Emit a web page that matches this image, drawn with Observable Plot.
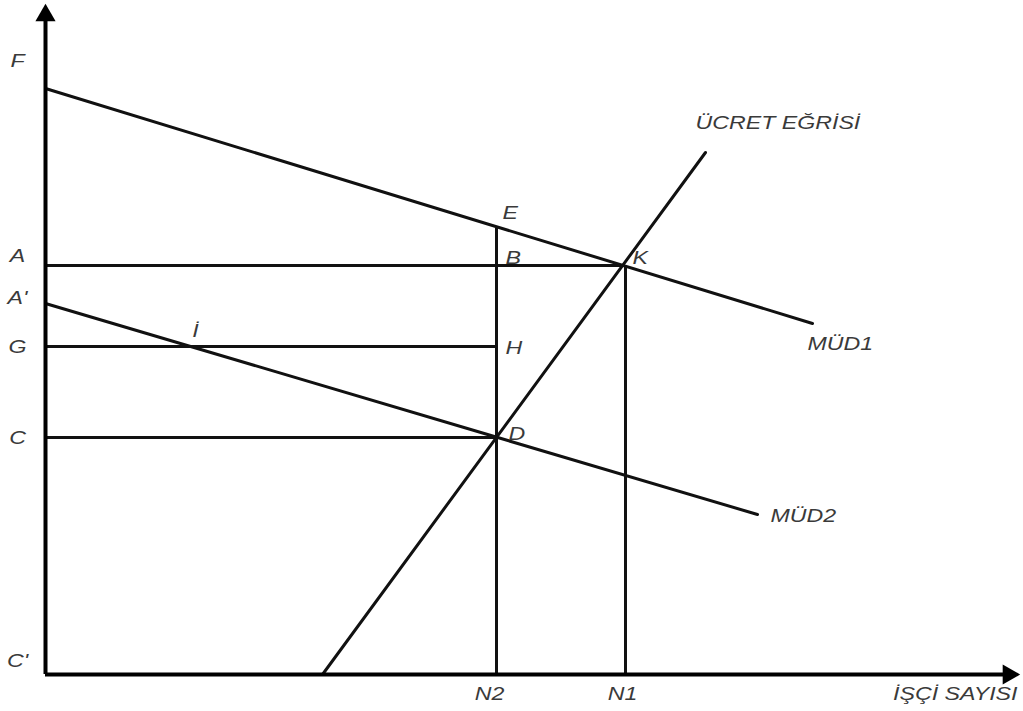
<!DOCTYPE html>
<html>
<head>
<meta charset="utf-8">
<script src="https://cdn.jsdelivr.net/npm/d3@7"></script>
<script src="https://cdn.jsdelivr.net/npm/@observablehq/plot@0.6"></script>
<style>
  html, body { margin: 0; padding: 0; background: #fff; }
  #chart svg { display: block; }
</style>
</head>
<body>
<div id="chart"></div>
<script>
// Levels on the vertical axis (diagram units)
const levelNames = ["F", "A", "A'", "G", "C", "C'"];
const levelValues = [614, 419, 377, 328, 237, 14];
// Employment levels
const empNames = ["N2", "N1"];
const empValues = [444, 577];

// Curves (endpoints)
const mud1 = [{x: 0, y: 586}, {x: 767, y: 351}];
const mud2 = [{x: 0, y: 371}, {x: 712, y: 160}];
const wage = [{x: 277, y: 0}, {x: 660, y: 522}];

// Guide segments
const hLines = [
  {x1: 0, x2: 580, y: 409},   // A - K
  {x1: 0, x2: 451, y: 328},   // G - H
  {x1: 0, x2: 451, y: 237}    // C - D
];
const vLines = [
  {x: 451, y1: 0, y2: 446},   // N2 - E
  {x: 580, y1: 0, y2: 409}    // N1 - K
];

// Point labels
const pointLabels = [
  {t: "E", x: 457, y: 462},
  {t: "B", x: 460, y: 417},
  {t: "K", x: 587, y: 417},
  {t: "H", x: 460, y: 327},
  {t: "D", x: 463, y: 241}
];
const iLabel = [{t: "İ", x: 150, y: 344}];
const curveLabels = [
  {t: "MÜD1", x: 762, y: 331},
  {t: "MÜD2", x: 725, y: 159},
  {t: "ÜCRET EĞRİSİ", x: 650, y: 552}
];
const xTitle = "İŞÇİ SAYISI";

const levelData = levelNames.map((n, i) => ({t: n, y: levelValues[i]}));
const empData = empNames.map((n, i) => ({t: n, x: empValues[i]}));

const font = {fontFamily: "Liberation Sans, Arial, sans-serif", fontStyle: "italic", fontSize: 19, fill: "#3a3a3a"};

const chart = Plot.plot({
  width: 1023,
  height: 711,
  marginLeft: 45,
  marginRight: 6,
  marginTop: 5,
  marginBottom: 37,
  x: {domain: [0, 972], axis: null},
  y: {domain: [0, 669], axis: null},
  marks: [
    Plot.line(mud1, {x: "x", y: "y", stroke: "#111", strokeWidth: 3}),
    Plot.line(mud2, {x: "x", y: "y", stroke: "#111", strokeWidth: 3}),
    Plot.line(wage, {x: "x", y: "y", stroke: "#111", strokeWidth: 3}),
    Plot.ruleY(hLines, {y: "y", x1: "x1", x2: "x2", stroke: "#111", strokeWidth: 3}),
    Plot.ruleX(vLines, {x: "x", y1: "y1", y2: "y2", stroke: "#111", strokeWidth: 3}),
    // axes
    Plot.ruleX([0], {y1: 0, y2: 655, stroke: "#000", strokeWidth: 4}),
    Plot.ruleY([0], {x1: 0, x2: 958, stroke: "#000", strokeWidth: 4}),
    Plot.dot([{x: 0, y: 659}], {x: "x", y: "y", symbol: "triangle", r: 7.5, fill: "#000", stroke: null}),
    Plot.dot([{x: 963, y: 0}], {x: "x", y: "y", symbol: "triangle", r: 7.5, fill: "#000", stroke: null, rotate: 90}),
    // labels
    Plot.text(levelData, {x: -28, y: "y", text: "t", ...font}),
    Plot.text(empData, {x: "x", y: -19, text: "t", ...font}),
    Plot.text([xTitle], {x: 972, y: -19, text: d => d, textAnchor: "end", ...font}),
    Plot.text(pointLabels, {x: "x", y: "y", text: "t", textAnchor: "start", ...font}),
    Plot.text(iLabel, {x: "x", y: "y", text: "t", ...font}),
    Plot.text(curveLabels, {x: "x", y: "y", text: "t", textAnchor: "start", ...font})
  ]
});
document.getElementById("chart").append(chart);
// stretch lettering horizontally around each label's anchor, like the reference
chart.querySelectorAll("text").forEach(el => {
  const tr = el.getAttribute("transform") || "";
  el.setAttribute("transform", (tr + " scale(1.22,1)").trim());
});
</script>
</body>
</html>
